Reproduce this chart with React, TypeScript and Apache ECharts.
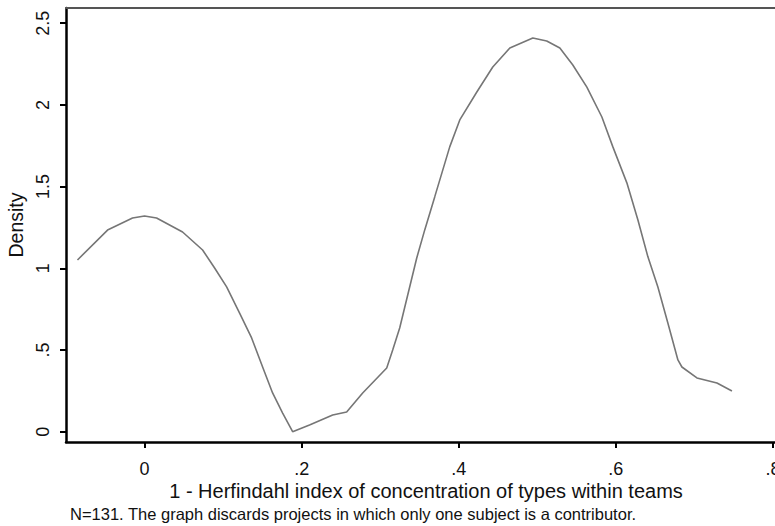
import React, { useEffect, useRef } from "react";
import * as echarts from "echarts";

const xValues = [
  -0.0854, -0.0471, -0.0153, 0.0, 0.0153, 0.0484, 0.0739, 0.0892, 0.1045, 0.121,
  0.1363, 0.1503, 0.163, 0.1758, 0.1885, 0.21, 0.2395, 0.2573, 0.2777, 0.3083,
  0.3159, 0.3248, 0.3465, 0.3567, 0.3694, 0.3885, 0.4013, 0.423, 0.4433, 0.465,
  0.4943, 0.512, 0.5287, 0.5452, 0.5631, 0.5822, 0.5962, 0.614, 0.628, 0.6408,
  0.6535, 0.6662, 0.679, 0.6841, 0.7032, 0.7287, 0.7478,
];
const densityValues = [
  1.051, 1.234, 1.308, 1.32, 1.308, 1.222, 1.112, 1.002, 0.886, 0.726,
  0.574, 0.396, 0.237, 0.114, 0.0, 0.041, 0.102, 0.121, 0.237, 0.39,
  0.5, 0.635, 1.063, 1.235, 1.437, 1.743, 1.908, 2.079, 2.232, 2.348,
  2.409, 2.391, 2.348, 2.244, 2.109, 1.926, 1.743, 1.523, 1.297, 1.07,
  0.886, 0.665, 0.439, 0.396, 0.329, 0.298, 0.249,
];
const xTicks = [0, 0.2, 0.4, 0.6, 0.8];
const yTicks = [0, 0.5, 1, 1.5, 2, 2.5];
const xTitle = "1 - Herfindahl index of concentration of types within teams";
const yTitle = "Density";
const footnote = "N=131. The graph discards projects in which only one subject is a contributor.";

const FONT = "'Liberation Sans', Arial, Helvetica, sans-serif";
const TEXT = "#111111";

const fmt = (v: number) => {
  if (Math.abs(v) < 1e-9) return "0";
  const s = String(Math.round(v * 100) / 100);
  return s.startsWith("0.") ? s.slice(1) : s;
};

export default function App() {
  const ref = useRef<HTMLDivElement>(null);
  useEffect(() => {
    if (!ref.current) return;
    const chart = echarts.init(ref.current, null, { renderer: "svg" });
    const data = xValues.map((x, i) => [x, densityValues[i]]);
    chart.setOption({
      animation: false,
      backgroundColor: "#ffffff",
      textStyle: { fontFamily: FONT },
      grid: {
        left: 66,
        top: 8,
        right: -11,
        bottom: 84,
        containLabel: false,
        outerBoundsMode: "none",
      },
      xAxis: [
        {
          type: "value",
          min: -0.1,
          max: 0.8166,
          position: "bottom",
          splitLine: { show: false },
          axisLine: { show: true, onZero: false, lineStyle: { color: "#000", width: 2.5 } },
          axisTick: { show: true, length: 6, lineStyle: { color: "#000", width: 2 }, customValues: xTicks },
          axisLabel: {
            customValues: xTicks,
            formatter: (v: number) => fmt(v),
            fontSize: 18,
            color: TEXT,
            fontFamily: FONT,
            margin: 18,
          },
        },
        {
          type: "value",
          min: -0.1,
          max: 0.8166,
          position: "top",
          splitLine: { show: false },
          axisLine: { show: true, onZero: false, lineStyle: { color: "#555", width: 2 } },
          axisTick: { show: false },
          axisLabel: { show: false },
        },
      ],
      yAxis: {
        type: "value",
        min: -0.063,
        max: 2.593,
        splitLine: { show: false },
        axisLine: { show: true, onZero: false, lineStyle: { color: "#000", width: 2.5 } },
        axisTick: { show: true, length: 6, lineStyle: { color: "#000", width: 2 }, customValues: yTicks },
        axisLabel: {
          customValues: yTicks,
          formatter: (v: number) => fmt(v),
          rotate: 90,
          fontSize: 18,
          color: TEXT,
          fontFamily: FONT,
          margin: 14,
        },
        name: yTitle,
        nameLocation: "middle",
        nameRotate: 90,
        nameGap: 39,
        nameTextStyle: { fontSize: 19.5, color: TEXT, fontFamily: FONT },
      },
      graphic: [
        {
          type: "text",
          x: 426,
          y: 491,
          style: {
            text: xTitle,
            font: `20px ${FONT}`,
            fill: TEXT,
            textAlign: "center",
            textVerticalAlign: "middle",
          },
        },
        {
          type: "text",
          left: 70,
          top: 505,
          style: { text: footnote, font: `16.5px ${FONT}`, fill: TEXT },
        },
      ],
      series: [
        {
          type: "line",
          xAxisIndex: 0,
          data,
          showSymbol: false,
          smooth: false,
          lineStyle: { color: "#767676", width: 1.6 },
        },
      ],
    });
    return () => chart.dispose();
  }, []);
  return (
    <div
      ref={ref}
      style={{ position: "fixed", left: 0, top: 0, width: 775, height: 526 }}
    />
  );
}
